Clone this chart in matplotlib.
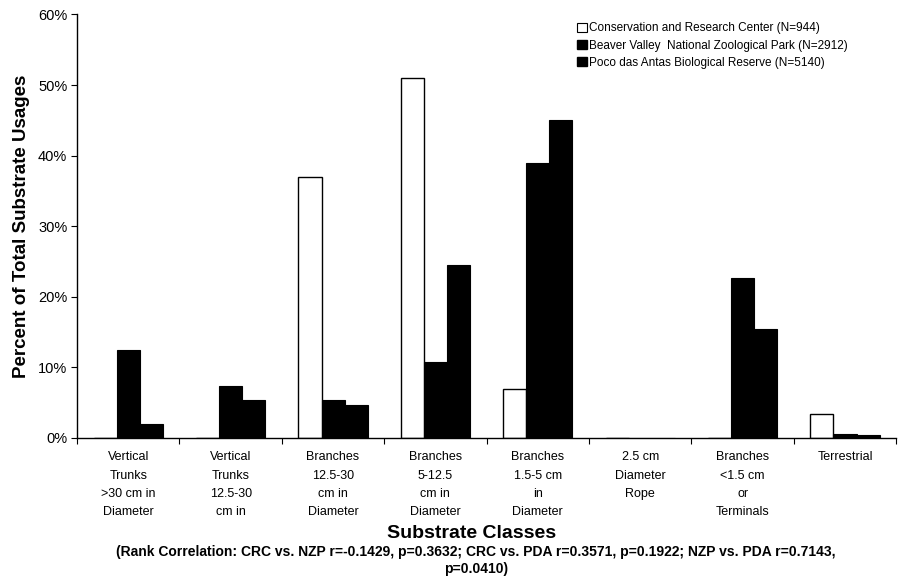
import numpy as np
import matplotlib.pyplot as plt
from matplotlib.patches import Patch
from matplotlib.ticker import FuncFormatter

plt.rcParams['font.family'] = ['Liberation Sans', 'DejaVu Sans']

categories = [
    "Vertical\nTrunks\n>30 cm in\nDiameter",
    "Vertical\nTrunks\n12.5-30\ncm in",
    "Branches\n12.5-30\ncm in\nDiameter",
    "Branches\n5-12.5\ncm in\nDiameter",
    "Branches\n1.5-5 cm\nin\nDiameter",
    "2.5 cm\nDiameter\nRope",
    "Branches\n<1.5 cm\nor\nTerminals",
    "Terrestrial",
]
crc = [0.0, 0.0, 37.0, 51.0, 7.0, 0.0, 0.0, 3.4]
nzp = [12.4, 7.4, 5.4, 10.8, 38.9, 0.0, 22.7, 0.6]
pda = [2.0, 5.4, 4.7, 24.5, 45.0, 0.0, 15.5, 0.4]

series_names = [
    "Conservation and Research Center (N=944)",
    "Beaver Valley  National Zoological Park (N=2912)",
    "Poco das Antas Biological Reserve (N=5140)",
]

fig = plt.figure(figsize=(8.98, 5.86), dpi=100)
ax = fig.add_axes([0.0858, 0.2526, 0.9122, 0.7228])

x = np.arange(len(categories))
w = 0.225
ax.bar(x - w, crc, w, color='white', edgecolor='black', linewidth=1.0)
ax.bar(x, nzp, w, color='black', edgecolor='black', linewidth=0.8)
ax.bar(x + w, pda, w, color='black', edgecolor='black', linewidth=0.8)

ax.set_xlim(-0.5, len(categories) - 0.5)
ax.set_ylim(0, 60)
ax.set_yticks(np.arange(0, 61, 10))
ax.yaxis.set_major_formatter(FuncFormatter(lambda v, p: f"{v:.0f}%"))
ax.tick_params(axis='y', direction='out', length=4, labelsize=10.5, pad=3)

# ticks sit on category boundaries, labels go under the centres
ax.set_xticks(np.arange(-0.5, len(categories), 1.0))
ax.set_xticklabels([])
ax.tick_params(axis='x', direction='out', length=4)
for xi, lab in zip(x, categories):
    ax.text(xi, -1.9, lab, ha='center', va='top', fontsize=9,
            linespacing=1.7, transform=ax.transData)

for s in ['top', 'right']:
    ax.spines[s].set_visible(False)
ax.spines['left'].set_linewidth(1.0)
ax.spines['bottom'].set_linewidth(1.0)

ax.set_ylabel("Percent of Total Substrate Usages", fontsize=13.5,
              fontweight='bold', labelpad=6)

fig.text(472 / 898, 1 - 534 / 586, "Substrate Classes", ha='center', va='center',
         fontsize=14, fontweight='bold')
fig.text(476 / 898, 1 - 552 / 586,
         "(Rank Correlation: CRC vs. NZP r=-0.1429, p=0.3632; CRC vs. PDA r=0.3571, "
         "p=0.1922; NZP vs. PDA r=0.7143,",
         ha='center', va='center', fontsize=10, fontweight='bold')
fig.text(476 / 898, 1 - 569 / 586, "p=0.0410)", ha='center', va='center',
         fontsize=10, fontweight='bold')

handles = [
    Patch(facecolor='white', edgecolor='black', linewidth=0.8),
    Patch(facecolor='black', edgecolor='black'),
    Patch(facecolor='black', edgecolor='black'),
]
ax.legend(handles, series_names, loc='upper left',
          bbox_to_anchor=(568 / 898, 1 - 13 / 586),
          bbox_transform=fig.transFigure, frameon=False, fontsize=8.5,
          handlelength=0.8, handleheight=0.8, handletextpad=0.2,
          labelspacing=0.45, borderpad=0.3)

fig.savefig("out.png", dpi=100)
